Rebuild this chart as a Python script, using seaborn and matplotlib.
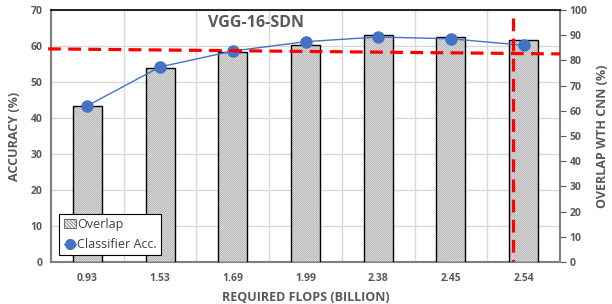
import matplotlib
matplotlib.use("Agg")
import matplotlib.pyplot as plt
import seaborn as sns
import pandas as pd
from matplotlib.lines import Line2D
from matplotlib.patches import Patch

flops = ["0.93", "1.53", "1.69", "1.99", "2.38", "2.45", "2.54"]
overlap = [62.0, 77.1, 83.4, 86.2, 90.0, 89.2, 88.0]
classifier_acc = [43.4, 54.2, 58.6, 61.2, 62.5, 62.0, 60.2]
ref_acc_line = [59.2, 57.8]   # red dashed reference line (accuracy units)
ref_flops_pos = 5.86          # red dashed vertical line (category position)

sns.set_theme(style="white")
plt.rcParams["font.family"] = ["Open Sans", "DejaVu Sans"]
plt.rcParams["hatch.linewidth"] = 0.6
HATCH = "\\" * 16
HATCH_COLOR = "#a0a0a0"

df = pd.DataFrame({"flops": flops, "overlap": overlap, "acc": classifier_acc})

fig = plt.figure(figsize=(6.12, 3.04), dpi=100)
ax = fig.add_axes([51/612, 42/304, 509/612, 252/304])
gray = "#595959"

# grid on left axis
ax.set_ylim(0, 70)
ax.set_yticks(range(0, 71, 10))
ax.set_xlim(-0.5, 6.5)
ax.set_xticks([i + 0.5 for i in range(-1, 7)], minor=True)
ax.grid(True, axis="y", color="#d9d9d9", lw=1)
ax.grid(True, axis="x", which="minor", color="#d9d9d9", lw=1)
ax.tick_params(axis="y", labelsize=7.5, colors=gray, length=0, pad=6)
for t in ax.get_yticklabels():
    t.set_fontweight("bold")

# bars on right axis: hatched fill, then black outline
ax2 = ax.twinx()
sns.barplot(data=df, x="flops", y="overlap", ax=ax2, color="white",
            edgecolor=HATCH_COLOR, linewidth=0, width=0.4, hatch=HATCH)
sns.barplot(data=df, x="flops", y="overlap", ax=ax2, color="black",
            fill=False, linewidth=1.0, width=0.4)
ax2.set_ylim(0, 100)
ax2.set_yticks(range(0, 101, 10))
ax2.set_xlim(-0.5, 6.5)
ax2.set_ylabel("OVERLAP WTH CNN (%)", fontsize=9, fontweight="bold", color=gray, labelpad=6)
ax2.tick_params(axis="y", labelsize=7.5, colors=gray, length=4, width=0.8, direction="out", pad=3)
for t in ax2.get_yticklabels():
    t.set_fontweight("bold")

# points on third axis sharing left scale
ax3 = ax.twinx()
ax3.set_ylim(0, 70)
ax3.set_xlim(-0.5, 6.5)
sns.lineplot(data=df, x="flops", y="acc", ax=ax3, color="#4472C4", lw=1.0,
             marker="o", markersize=9, markeredgewidth=0, sort=False)
ax3.plot([-0.54, 6.5], ref_acc_line, color="red", lw=2.3, dashes=(4, 2.3), clip_on=False)
ax3.plot([ref_flops_pos, ref_flops_pos], [ax3.get_ylim()[1] * 0.97, 0], color="red",
         lw=2.3, dashes=(4, 2.3))
ax3.set_yticks([])
ax3.set_ylabel("")
ax3.set_xlabel("")

for a in (ax, ax2, ax3):
    for s in a.spines.values():
        s.set_visible(False)
ax.spines["left"].set_visible(True)
ax.spines["left"].set_color("#7f7f7f")
ax.spines["left"].set_linewidth(1.5)
ax.spines["bottom"].set_visible(True)
ax.spines["bottom"].set_color("#7f7f7f")
ax.spines["bottom"].set_linewidth(1.5)
ax2.spines["right"].set_visible(True)
ax2.spines["right"].set_color("#7f7f7f")
ax2.spines["right"].set_linewidth(1.5)
ax2.spines["top"].set_visible(True)
ax2.spines["top"].set_color("black")
ax2.spines["top"].set_linewidth(1.2)

ax.set_xticks(range(7))
ax.set_xticklabels(flops)
ax.tick_params(axis="x", labelsize=7.5, colors=gray, length=0, pad=8)
for t in ax.get_xticklabels():
    t.set_fontweight("bold")
ax2.set_xlabel("")
ax2.tick_params(axis="x", length=0, labelbottom=False)
ax3.tick_params(axis="x", length=0, labelbottom=False)

ax.set_ylabel("ACCURACY (%)", fontsize=9, fontweight="bold", color=gray, labelpad=7)
ax.set_xlabel("REQUIRED FLOPS (BILLION)", fontsize=9, fontweight="bold", color=gray, labelpad=5)

ax3.text(0.402, 0.948, "VGG-16-SDN", transform=ax3.transAxes, ha="center", va="center",
         fontsize=11.5, fontweight="bold", color=gray)

handles = [Patch(facecolor="white", edgecolor="#707070", hatch="\\" * 10, lw=0.8),
           Line2D([0], [0], color="#4472C4", lw=1, marker="o", markersize=7)]
leg = ax3.legend(handles, ["Overlap", "Classifier Acc."], loc="lower left",
                 bbox_to_anchor=(0.016, 0.026), fontsize=9, frameon=True,
                 fancybox=False, edgecolor="black", framealpha=1,
                 handlelength=1.0, handletextpad=0.1, borderpad=0.35,
                 labelspacing=0.55, borderaxespad=0)
leg.get_frame().set_linewidth(0.8)
for t in leg.get_texts():
    t.set_color("#404040")

fig.savefig("out.png", dpi=100)
